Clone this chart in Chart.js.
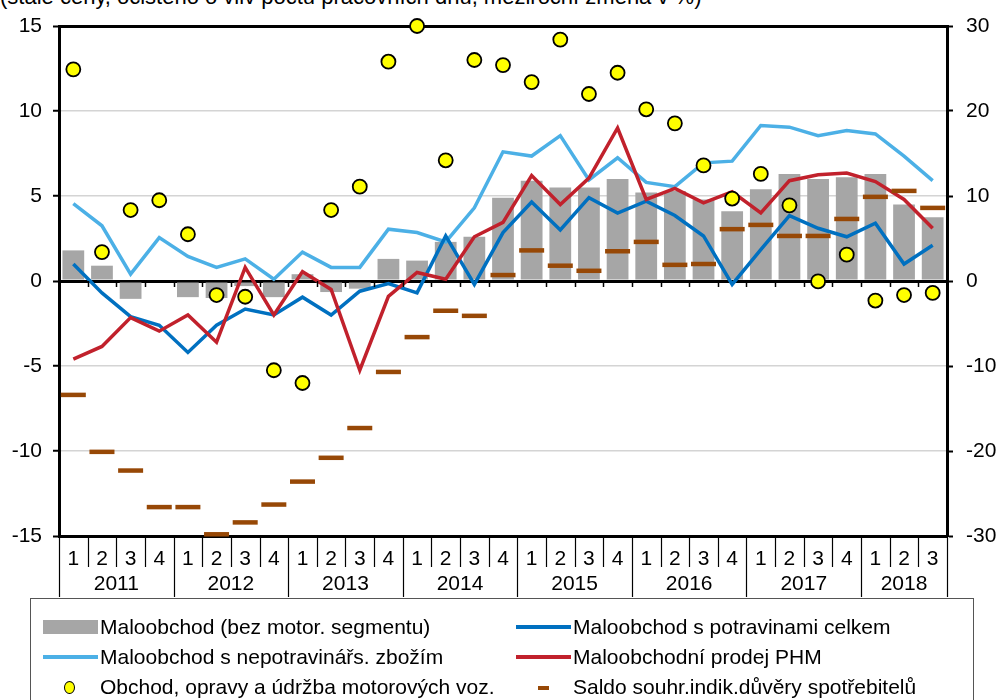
<!DOCTYPE html>
<html>
<head>
<meta charset="utf-8">
<script src="https://cdn.jsdelivr.net/npm/chart.js"></script>
<style>
  body { margin: 0; background: #fff; font-family: "Liberation Sans", Arial, sans-serif; }
  #wrap { position: relative; width: 998px; height: 700px; overflow: hidden; }
  #title { position: absolute; left: 0; top: -16px; font-size: 22px; white-space: nowrap; color: #000; }
  #box { position: absolute; left: 0; top: 0; width: 998px; height: 600px; }
  #legend { position: absolute; left: 30px; top: 598px; width: 944px; height: 110px; border: 1px solid #555; box-sizing: border-box; font-size: 21px; }
  .it { position: absolute; height: 30px; line-height: 30px; white-space: nowrap; }
  .sw { position: absolute; }
</style>
</head>
<body>
<div id="wrap">
  <div id="title">(stálé ceny, očištěno o vliv počtu pracovních dnů, meziroční změna v %)</div>
  <div id="box"><canvas id="myChart"></canvas></div>
  <div id="legend">
    <div class="it" style="left:12px;top:13px"><span class="sw" style="left:0;top:8px;width:55px;height:14px;background:#a6a6a6"></span><span style="position:absolute;left:57px">Maloobchod (bez motor. segmentu)</span></div>
    <div class="it" style="left:485px;top:13px"><span class="sw" style="left:0;top:13px;width:55px;height:4px;background:#0070c0"></span><span style="position:absolute;left:57px">Maloobchod s potravinami celkem</span></div>
    <div class="it" style="left:12px;top:43px"><span class="sw" style="left:0;top:13px;width:55px;height:4px;background:#4cb0e6"></span><span style="position:absolute;left:57px">Maloobchod s nepotravinářs. zbožím</span></div>
    <div class="it" style="left:485px;top:43px"><span class="sw" style="left:0;top:13px;width:55px;height:4px;background:#c1212c"></span><span style="position:absolute;left:57px">Maloobchodní prodej PHM</span></div>
    <div class="it" style="left:12px;top:73px"><span class="sw" style="left:21px;top:9px;width:9px;height:11px;border-radius:50%;background:#ffff00;border:1.5px solid #000"></span><span style="position:absolute;left:57px">Obchod, opravy a údržba motorových voz.</span></div>
    <div class="it" style="left:485px;top:73px"><span class="sw" style="left:22px;top:14px;width:11px;height:4px;background:#974806"></span><span style="position:absolute;left:57px">Saldo souhr.indik.důvěry spotřebitelů</span></div>
  </div>
</div>
<script>
// quarters 2011Q1 .. 2018Q3
const quarters = ['1','2','3','4','1','2','3','4','1','2','3','4','1','2','3','4',
                  '1','2','3','4','1','2','3','4','1','2','3','4','1','2','3'];
const years = ['2011','2012','2013','2014','2015','2016','2017','2018'];

// left axis (%)
const retail = [1.8,0.9,-1.05,0,-0.95,-1.0,-0.3,-0.95,0.4,-0.65,-0.45,1.3,1.2,2.3,2.6,4.9,
                5.9,5.5,5.5,6.0,5.2,5.3,4.8,4.1,5.4,6.3,6.0,6.1,6.3,4.5,3.75];
const food = [1.0,-0.7,-2.1,-2.6,-4.2,-2.6,-1.65,-2.0,-0.95,-2.0,-0.6,-0.15,-0.7,2.65,-0.2,2.85,
              4.65,3.0,4.9,4.0,4.7,3.85,2.65,-0.2,1.85,3.85,3.1,2.6,3.4,1.0,2.1];
const nonfood = [4.55,3.25,0.4,2.55,1.45,0.8,1.3,0.1,1.7,0.8,0.8,3.05,2.85,2.3,4.3,7.6,
                 7.35,8.55,5.95,7.25,5.8,5.55,6.95,7.05,9.15,9.05,8.55,8.85,8.65,7.35,5.9];
const fuel = [-4.6,-3.85,-2.15,-2.95,-2.0,-3.6,0.8,-2.0,0.55,-0.5,-5.25,-0.9,0.5,0.1,2.6,3.45,
              6.2,4.5,6.05,9.0,4.8,5.45,4.6,5.25,4.0,5.9,6.25,6.35,5.85,4.8,3.1];

// right axis
const motor = [24.9,3.4,8.35,9.5,5.5,-1.65,-1.85,-10.5,-12.0,8.35,11.1,25.8,30,14.2,26,25.4,
               23.4,28.4,22.0,24.5,20.2,18.55,13.6,9.7,12.6,8.9,-0.05,3.1,-2.3,-1.65,-1.4];
const confidence = [-13.4,-20.1,-22.3,-26.6,-26.6,-29.8,-28.4,-26.3,-23.6,-20.8,-17.3,-10.7,-6.6,-3.5,-4.1,0.7,
                    3.6,1.8,1.2,3.5,4.6,1.9,2.0,6.1,6.6,5.3,5.3,7.3,9.9,10.6,8.6];

// separators, year labels and small ticks on the zero line
const axisExtras = {
  id: 'axisExtras',
  afterDraw(chart) {
    const ctx = chart.ctx, x = chart.scales.x, y = chart.scales.y;
    const bottom = chart.chartArea.bottom;
    const n = quarters.length;
    const edge = i => i === 0 ? x.left : (i === n ? x.right : (x.getPixelForValue(i - 1) + x.getPixelForValue(i)) / 2);
    const y0 = y.getPixelForValue(0);
    ctx.save();
    ctx.strokeStyle = '#000';
    ctx.lineWidth = 1.2;
    for (let i = 0; i <= n; i++) {
      const px = Math.round(edge(i)) + 0.5;
      const yearEdge = i % 4 === 0 || i === n;
      ctx.beginPath();
      ctx.moveTo(px, bottom);
      ctx.lineTo(px, bottom + (yearEdge ? 61 : 31));
      ctx.stroke();
      if (i > 0 && i < n) {
        ctx.lineWidth = 1.5;
        ctx.beginPath();
        ctx.moveTo(px, y0);
        ctx.lineTo(px, y0 + 6);
        ctx.stroke();
        ctx.lineWidth = 1.2;
      }
    }
    ctx.fillStyle = '#000';
    ctx.font = '21px "Liberation Sans", Arial, sans-serif';
    ctx.textAlign = 'center';
    ctx.textBaseline = 'middle';
    years.forEach((yr, k) => {
      const a = k * 4, b = Math.min(a + 4, n);
      ctx.fillText(yr, (edge(a) + edge(b)) / 2, bottom + 48);
    });
    ctx.restore();
  }
};

const isEdge = v => v === 0 || v === 15 || v === -15;

new Chart(document.getElementById('myChart'), {
  data: {
    labels: quarters,
    datasets: [
      { type: 'line', data: motor, yAxisID: 'y1', showLine: false, order: 0, clip: false,
        pointRadius: 7, pointBackgroundColor: '#ffff00', pointBorderColor: '#000', pointBorderWidth: 1.8 },
      { type: 'line', data: confidence, yAxisID: 'y1', showLine: false, order: 1, clip: false,
        pointStyle: 'line', pointRadius: 12.5, pointBorderColor: '#974806', pointBorderWidth: 4.5 },
      { type: 'line', data: fuel, yAxisID: 'y', order: 2, borderColor: '#c1212c', borderWidth: 3.5, pointRadius: 0, tension: 0 },
      { type: 'line', data: food, yAxisID: 'y', order: 3, borderColor: '#0070c0', borderWidth: 3.5, pointRadius: 0, tension: 0 },
      { type: 'line', data: nonfood, yAxisID: 'y', order: 4, borderColor: '#4cb0e6', borderWidth: 3.5, pointRadius: 0, tension: 0 },
      { type: 'bar', data: retail, yAxisID: 'y', order: 5, backgroundColor: '#a6a6a6',
        categoryPercentage: 1, barPercentage: 0.76 }
    ]
  },
  options: {
    responsive: true,
    maintainAspectRatio: false,
    animation: false,
    layout: { padding: { top: 26, left: 0, right: 0, bottom: 0 } },
    plugins: { legend: { display: false }, tooltip: { enabled: false } },
    scales: {
      x: {
        offset: true,
        grid: { display: false },
        border: { display: false },
        ticks: { color: '#000', padding: 3, maxRotation: 0, autoSkip: false,
                 font: { size: 21, family: '"Liberation Sans", Arial, sans-serif' } },
        afterFit(s) { s.height = 64; }
      },
      y: {
        position: 'left',
        min: -15, max: 15,
        ticks: { stepSize: 5, color: '#000', padding: 11,
                 font: { size: 21, family: '"Liberation Sans", Arial, sans-serif' } },
        grid: {
          color: c => isEdge(c.tick.value) ? '#000' : '#d4d4d4',
          lineWidth: c => isEdge(c.tick.value) ? 3 : 1.5,
          tickColor: '#000', tickLength: 6, tickWidth: 2
        },
        border: { color: '#000', width: 3 },
        afterFit(s) { s.width = 59; }
      },
      y1: {
        position: 'right',
        min: -30, max: 30,
        ticks: { stepSize: 10, color: '#000', padding: 13,
                 font: { size: 21, family: '"Liberation Sans", Arial, sans-serif' } },
        grid: { drawOnChartArea: false, tickColor: '#000', tickLength: 6, tickWidth: 2 },
        border: { color: '#000', width: 3 },
        afterFit(s) { s.width = 51; }
      }
    }
  },
  plugins: [axisExtras]
});
</script>
</body>
</html>
